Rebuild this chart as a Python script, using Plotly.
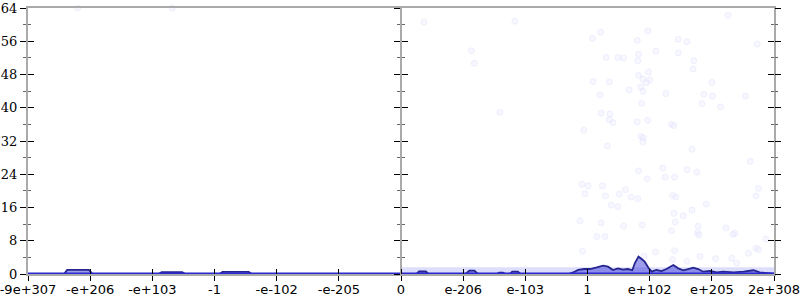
import plotly.graph_objects as go

# x positions are in "float-ordinal" units: each unit = one labelled tick step
tick_pos = [-6, -5, -4, -3, -2, -1, 0, 1, 2, 3, 4, 5, 6]
tick_text = ["-9e+307", "-e+206", "-e+103", "-1", "-e-102", "-e-205", "0",
             "e-206", "e-103", "1", "e+102", "e+205", "2e+308"]

# density line
line_x = [-6, -5.42, -5.37, -5.02, -4.96, -3.9, -3.85, -3.52, -3.47, -2.92, -2.87, -2.45, -2.4, 0,
          0.25, 0.29, 0.4, 0.44, 1.04, 1.1, 1.18, 1.24, 1.54, 1.58, 1.64, 1.68, 1.75, 1.79, 1.88, 1.92,
          2.7, 2.8, 2.85, 2.95, 3.04, 3.15, 3.25, 3.33, 3.41, 3.49, 3.57, 3.65, 3.72, 3.76, 3.82, 3.87,
          3.92, 3.98, 4.03, 4.11, 4.19, 4.27, 4.38, 4.46, 4.54, 4.62, 4.70, 4.78, 4.86, 4.97, 5.08,
          5.18, 5.35, 5.51, 5.67, 5.77, 5.94, 6]
line_y = [0, 0, 1.0, 1.0, 0, 0, 0.45, 0.45, 0, 0, 0.5, 0.5, 0, 0,
          0, 0.6, 0.6, 0, 0, 0.8, 0.8, 0, 0, 0.35, 0.35, 0, 0, 0.55, 0.55, 0,
          0, 0.6, 1.0, 1.2, 1.2, 1.6, 2.0, 1.76, 0.96, 1.36, 1.04, 1.2, 0.9, 2.56, 4.17, 3.6,
          2.97, 1.52, 0.56, 0.96, 0.72, 1.2, 2.17, 1.36, 0.9, 1.2, 1.52, 1.2, 0.56, 0.72, 0.4,
          0.56, 0.4, 0.56, 0.9, 0.4, 0.15, 0.1]

# dense band of points near zero (positive side)
band_x = [0, 1, 2, 3, 4, 5, 6]
band_top = [1.6, 1.6, 1.6, 1.6, 1.6, 1.6, 1.6]

# baseline points at zero
base_x = [-6, 6]
base_y = [0, 0]

# sparse scattered points
pts_x = [3.21, 3.08, 3.97, 3.80, 4.46, 4.60, 5.73, 3.30, 3.49, 3.58, 3.82, 4.10, 4.46, 3.81, 4.71,
         4.70, 3.98, 3.82, 3.09, 3.35, 3.89, 4.00, 3.95, 5.00, 3.86, 3.67, 3.89, 3.20, 4.26, 4.87,
         5.01, 5.54, 3.87, 4.84, 5.14, 3.22, 3.36, 3.35, 3.41, 3.80, 3.97, 2.94, 4.35, 4.39, 3.86,
         3.90, 3.32, 3.89, 4.68, 5.62, 3.82, 4.21, 4.60, 4.76, 3.96, 4.25, 4.40, 2.91, 3.01, 3.24,
         3.61, 5.75, 2.96, 3.29, 3.51, 3.70, 3.81, 4.37, 4.42, 5.71, 3.38, 3.49, 4.91, 4.39, 4.54,
         4.68, 2.88, 3.22, 3.58, 3.88, 4.41, 4.78, 4.35, 4.77, 4.79, 5.23, 5.37, 3.15, 3.28, 5.87,
         2.92, 4.81, 4.40, 4.09, 5.59, 5.71, 5.40, 5.34, 5.75, 5.06, 5.32, 4.60, 4.37, 3.91,
         0.37, 1.83, 1.13, 1.18, 1.59, -5.20, -3.68, 5.26]
pts_y = [58.2, 56.7, 58.5, 56.2, 56.5, 55.9, 55.3, 52.1, 52.1, 52.0, 52.9, 53.6, 53.2, 51.3, 51.3,
         49.3, 48.6, 47.8, 46.3, 46.2, 46.9, 46.7, 46.0, 46.1, 45.0, 44.3, 44.0, 43.1, 43.4, 43.2,
         42.8, 42.8, 41.1, 41.0, 40.2, 38.7, 38.5, 37.1, 36.4, 36.6, 37.0, 34.6, 36.0, 35.7, 33.1,
         32.7, 30.8, 31.8, 30.0, 27.1, 24.8, 25.5, 25.1, 24.5, 22.9, 23.3, 23.3, 21.6, 21.2, 21.2,
         20.3, 20.6, 19.3, 18.8, 19.2, 18.5, 18.1, 18.9, 18.5, 18.8, 16.6, 16.2, 16.8, 14.6, 14.0,
         15.4, 12.8, 12.3, 11.5, 11.8, 12.5, 11.5, 10.4, 9.9, 9.4, 11.1, 9.8, 9.0, 9.0, 8.4,
         5.5, 4.2, 5.6, 5.3, 5.0, 6.2, 2.6, 9.5, 5.9, 3.7, 3.8, 3.1, 3.5, 4.3,
         60.6, 60.8, 53.7, 50.7, 38.9, 64.0, 64.0, 62.2]

y_ticks = [0, 8, 16, 24, 32, 40, 48, 56, 64]

fig = go.Figure()

fig.add_trace(go.Scatter(x=pts_x, y=pts_y, mode="markers", cliponaxis=False,
                         marker=dict(size=6, color="rgba(235,235,255,0.4)",
                                     line=dict(color="rgba(215,215,250,0.35)", width=1)),
                         hoverinfo="skip", showlegend=False))
fig.add_trace(go.Scatter(x=band_x, y=band_top, mode="lines", fill="tozeroy",
                         fillcolor="rgba(150,150,245,0.32)", line=dict(width=0),
                         hoverinfo="skip", showlegend=False))
fig.add_trace(go.Scatter(x=line_x, y=line_y, mode="lines", fill="tozeroy",
                         fillcolor="rgba(60,60,215,0.5)",
                         line=dict(color="#25258f", width=1.8),
                         hoverinfo="skip", showlegend=False))
fig.add_trace(go.Scatter(x=base_x, y=base_y, mode="lines", cliponaxis=False,
                         line=dict(color="#2a2ad0", width=3),
                         hoverinfo="skip", showlegend=False))

# empty traces so that the extra tick axes are drawn
for xa, ya in [("x2", "y"), ("x", "y2"), ("x", "y3"), ("x", "y4"), ("x", "y5"), ("x", "y6")]:
    fig.add_trace(go.Scatter(x=[], y=[], xaxis=xa, yaxis=ya, mode="markers",
                             hoverinfo="skip", showlegend=False))

sans = dict(family="DejaVu Sans", size=13, color="black")
serif = dict(family="DejaVu Serif", size=13, color="black")

common_x = dict(range=[-6, 6], showgrid=False, zeroline=False, fixedrange=True, automargin=False)
common_y = dict(range=[0, 64], showgrid=False, zeroline=False, fixedrange=True,
                tickvals=y_ticks, automargin=False)

fig.update_layout(
    width=800, height=300,
    margin=dict(l=28, r=26, t=8, b=26),
    paper_bgcolor="white", plot_bgcolor="white",
    showlegend=False,
    xaxis=dict(**common_x, tickvals=tick_pos, ticktext=tick_text, tickfont=sans,
               ticks="outside", ticklen=5, tickcolor="black", tickwidth=1,
               ticklabeloverflow="allow", ticklabelstandoff=-3,
               showline=True, linecolor="#aaaaaa", linewidth=2, mirror=True),
    xaxis2=dict(**common_x, overlaying="x", anchor="y", side="bottom", matches="x",
                tickvals=tick_pos, showticklabels=False,
                ticks="inside", ticklen=5, tickcolor="black", tickwidth=1, showline=False),
    yaxis=dict(**common_y, tickfont=serif, ticks="outside", ticklen=6, tickcolor="black",
               showline=True, linecolor="#aaaaaa", linewidth=2, mirror=True,
               ticklabeloverflow="allow",
               minor=dict(dtick=4, ticks="outside", ticklen=3, tickcolor="#666666")),
    yaxis2=dict(**common_y, overlaying="y", side="left", anchor="x", showticklabels=False,
                ticks="inside", ticklen=6, tickcolor="black", showline=False,
                minor=dict(dtick=4, ticks="inside", ticklen=3, tickcolor="#666666")),
    yaxis3=dict(**common_y, overlaying="y", side="left", anchor="free", position=0.5,
                showticklabels=False, ticks="outside", ticklen=6, tickcolor="black",
                showline=True, linecolor="#aaaaaa", linewidth=2,
                minor=dict(dtick=4, ticks="outside", ticklen=3, tickcolor="#666666")),
    yaxis4=dict(**common_y, overlaying="y", side="left", anchor="free", position=0.5,
                showticklabels=False, ticks="inside", ticklen=6, tickcolor="black",
                showline=False,
                minor=dict(dtick=4, ticks="inside", ticklen=3, tickcolor="#666666")),
    yaxis5=dict(**common_y, overlaying="y", side="right", anchor="x",
                showticklabels=False, ticks="outside", ticklen=6, tickcolor="black",
                showline=False,
                minor=dict(dtick=4, ticks="outside", ticklen=3, tickcolor="#666666")),
    yaxis6=dict(**common_y, overlaying="y", side="right", anchor="x",
                showticklabels=False, ticks="inside", ticklen=6, tickcolor="black",
                showline=False,
                minor=dict(dtick=4, ticks="inside", ticklen=3, tickcolor="#666666")),
)

fig.write_html("out.html")
